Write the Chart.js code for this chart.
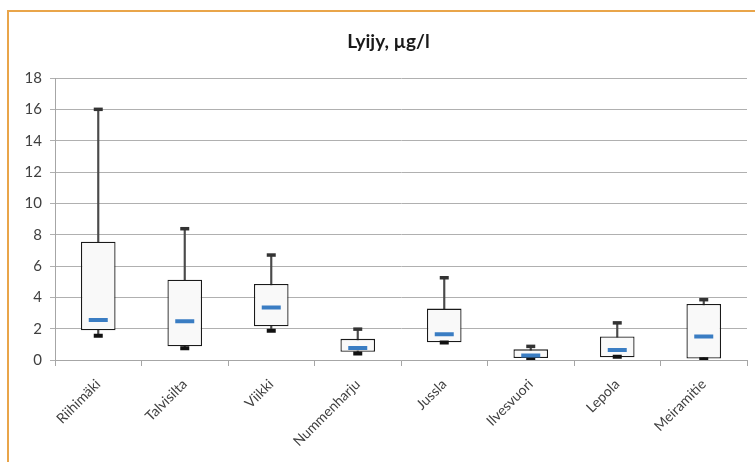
<!DOCTYPE html>
<html><head><meta charset="utf-8">
<script src="https://cdn.jsdelivr.net/npm/chart.js@4"></script>
<style>
html,body{margin:0;padding:0;background:#fff;overflow:hidden;width:755px;height:462px;}
#wrap{position:absolute;left:7px;top:10px;width:770px;height:470px;border:2px solid #e9a54a;background:#fff;}
canvas{position:absolute;left:0;top:0;}
</style></head>
<body>
<div id="wrap"><canvas id="c" width="770" height="450"></canvas></div>
<script>
const categories = ['Riihimäki','Talvisilta','Viikki','Nummenharju','Jussla','Ilvesvuori','Lepola','Meiramitie'];
const minVals    = [1.55, 0.75, 1.87, 0.42, 1.12, 0.02, 0.20, 0.05];
const q1Vals     = [1.90, 0.87, 2.15, 0.53, 1.13, 0.12, 0.17, 0.10];
const medianVals = [2.55, 2.47, 3.35, 0.77, 1.65, 0.28, 0.64, 1.50];
const q3Vals     = [7.55, 5.12, 4.85, 1.35, 3.28, 0.68, 1.50, 3.57];
const maxVals    = [16.0, 8.38, 6.70, 1.97, 5.25, 0.87, 2.37, 3.85];
const yTicks     = [0, 2, 4, 6, 8, 10, 12, 14, 16, 18];

const whisker = categories.map((c,i)=>[minVals[i], maxVals[i]]);
const boxes   = categories.map((c,i)=>[q1Vals[i], q3Vals[i]]);

new Chart(document.getElementById('c'), {
  type: 'bar',
  data: {
    labels: categories,
    datasets: [
      { type:'bar', data: whisker, grouped:false, barThickness:1.5, backgroundColor:'#4a4a4a', borderWidth:0, order:5 },
      { type:'bar', data: boxes, grouped:false, barPercentage:0.4, categoryPercentage:1.0,
        backgroundColor:'#f9f9f9', borderColor:'#1a1a1a', borderWidth:1.3, borderSkipped:false, order:4 },
      { type:'line', data: maxVals, showLine:false, pointStyle:'line', pointRadius:4.5, pointHoverRadius:4.5,
        pointBorderWidth:3.5, borderColor:'#333', backgroundColor:'#333', order:2 },
      { type:'line', data: minVals, showLine:false, pointStyle:'line', pointRadius:4.5, pointHoverRadius:4.5,
        pointBorderWidth:4, borderColor:'#111', backgroundColor:'#111', order:2 },
      { type:'line', data: medianVals, showLine:false, pointStyle:'line', pointRadius:9.5, pointHoverRadius:9.5,
        pointBorderWidth:4, borderColor:'#3a7dc3', backgroundColor:'#3a7dc3', order:1 }
    ]
  },
  options: {
    responsive:false, animation:false, devicePixelRatio:1,
    layout:{ padding:{ left:10, right:21, top:0, bottom:2 } },
    plugins:{
      legend:{display:false}, tooltip:{enabled:false},
      title:{ display:true, text:'Lyijy, µg/l', color:'#1a1a1a',
        font:{ family:'Lato', size:19, weight:'bold', lineHeight:1.2 }, padding:{ top:18, bottom:25.2 } }
    },
    scales:{
      x:{ offset:true,
        grid:{ display:true, drawOnChartArea:false, offset:true, tickLength:6, color:'#a6a6a6' },
        border:{ display:true, color:'#a6a6a6' },
        ticks:{ maxRotation:45, minRotation:45, autoSkip:false, color:'#404040',
          font:{ family:'Lato', size:14 }, padding:10 },
        afterFit(s){ s.height = 100; }
      },
      y:{ min:0, max:18,
        afterBuildTicks(s){ s.ticks = yTicks.map(v=>({value:v})); },
        grid:{ color:'#b0b0b0', tickLength:5, lineWidth:1 },
        border:{ display:true, color:'#a6a6a6' },
        ticks:{ color:'#404040', font:{ family:'Lato', size:15 }, padding:8 },
        afterFit(s){ s.width = 36; }
      },
      y2:{ position:'right', min:0, max:18, display:true,
        grid:{ display:false }, border:{ display:false }, ticks:{ display:false },
        afterFit(s){ s.width = 11; }
      }
    }
  }
});
</script>
</body></html>
